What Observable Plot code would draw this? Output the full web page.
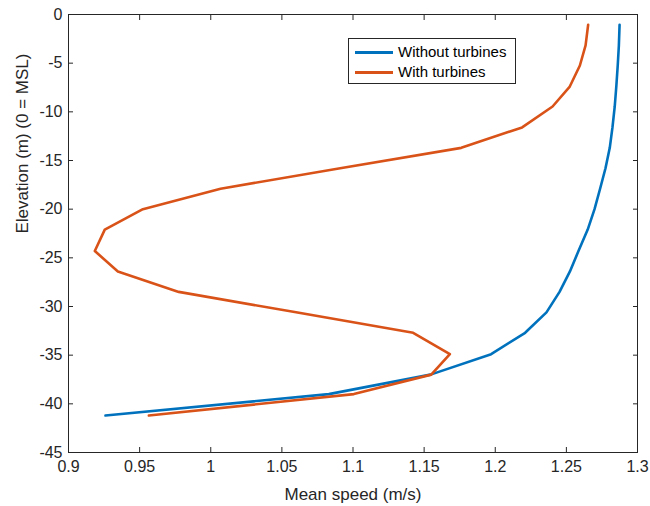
<!DOCTYPE html>
<html>
<head>
<meta charset="utf-8">
<script src="https://cdn.jsdelivr.net/npm/d3@7"></script>
<script src="https://cdn.jsdelivr.net/npm/@observablehq/plot@0.6"></script>
<style>
  body { margin: 0; background: #fff; font-family: "Liberation Sans", Arial, sans-serif; }
  #wrap { position: relative; width: 650px; height: 506px; }
  #legend { position: absolute; left: 348px; top: 38px; width: 166px; height: 44px; border: 1px solid #262626; background: #fff; }
  .row { position: absolute; left: 0; height: 20px; }
  .swatch { position: absolute; left: 6px; width: 38px; height: 3px; }
  .lbl { position: absolute; left: 49px; font-size: 15px; color: #000; white-space: nowrap; line-height: 20px; }
</style>
</head>
<body>
<div id="wrap"></div>
<script>
const seriesNames = ["Without turbines", "With turbines"];
const seriesColors = ["#0072BD", "#D95319"];
const depths = [-1.06, -3.18, -5.24, -7.4, -9.45, -11.6, -13.7, -15.8, -17.9, -20.0, -22.1, -24.3, -26.4, -28.5, -30.6, -32.7, -34.9, -37.0, -39.0, -41.2];
const withoutSpeed = [1.2874, 1.2869, 1.2861, 1.2851, 1.2840, 1.2824, 1.2805, 1.2775, 1.2737, 1.2698, 1.2650, 1.2585, 1.2525, 1.2452, 1.2360, 1.2210, 1.1971, 1.1545, 1.0830, 0.9260];
const withSpeed = [1.2653, 1.2635, 1.2595, 1.2524, 1.2403, 1.2189, 1.1761, 1.0910, 1.0069, 0.9523, 0.9255, 0.9185, 0.9347, 0.9775, 1.0600, 1.1423, 1.1681, 1.1550, 1.1006, 0.9565];
const xTicks = [0.9, 0.95, 1, 1.05, 1.1, 1.15, 1.2, 1.25, 1.3];
const yTicks = [-45, -40, -35, -30, -25, -20, -15, -10, -5, 0];
const xLabel = "Mean speed (m/s)";
const yLabel = "Elevation (m) (0 = MSL)";

const rows = [];
depths.forEach((d, i) => rows.push({series: seriesNames[0], depth: d, speed: withoutSpeed[i]}));
depths.forEach((d, i) => rows.push({series: seriesNames[1], depth: d, speed: withSpeed[i]}));

const axisColor = "#262626";
const fmt = d => String(+d.toFixed(2));

const chart = Plot.plot({
  width: 650,
  height: 506,
  marginLeft: 68,
  marginRight: 13,
  marginTop: 14,
  marginBottom: 54,
  style: {fontFamily: '"Liberation Sans", Arial, sans-serif', fontSize: "16px", color: axisColor, background: "white", overflow: "visible"},
  x: {domain: [0.9, 1.3]},
  y: {domain: [-45, 0]},
  color: {domain: seriesNames, range: seriesColors},
  marks: [
    Plot.line(rows, {x: "speed", y: "depth", z: "series", stroke: "series", strokeWidth: 2.6}),
    Plot.frame({stroke: axisColor, strokeWidth: 1}),
    Plot.axisX(xTicks, {anchor: "bottom", tickSize: -5, tickPadding: 13, tickFormat: fmt, fontSize: 16, label: null, stroke: axisColor, fill: axisColor}),
    Plot.axisX(xTicks, {anchor: "top", tickSize: -5, tickFormat: () => "", label: null, stroke: axisColor}),
    Plot.axisY(yTicks, {anchor: "left", tickSize: -5, tickPadding: 11, tickFormat: d => String(d), fontSize: 16, label: null, stroke: axisColor, fill: axisColor}),
    Plot.axisY(yTicks, {anchor: "right", tickSize: -5, tickFormat: () => "", label: null, stroke: axisColor}),
    Plot.text([xLabel], {frameAnchor: "bottom", dy: 42, text: d => d, fontSize: 17, fill: axisColor, lineAnchor: "middle"}),
    Plot.text([yLabel], {frameAnchor: "left", dx: -46, rotate: -90, text: d => d, fontSize: 17, fill: axisColor, lineAnchor: "middle"})
  ]
});

const wrap = document.getElementById("wrap");
wrap.appendChild(chart);

const legend = document.createElement("div");
legend.id = "legend";
seriesNames.forEach((name, i) => {
  const row = document.createElement("div");
  row.className = "row";
  row.style.top = (3 + i * 20) + "px";
  row.style.width = "100%";
  const sw = document.createElement("div");
  sw.className = "swatch";
  sw.style.top = "9px";
  sw.style.background = seriesColors[i];
  const lb = document.createElement("div");
  lb.className = "lbl";
  lb.textContent = name;
  row.appendChild(sw);
  row.appendChild(lb);
  legend.appendChild(row);
});
wrap.appendChild(legend);
</script>
</body>
</html>
